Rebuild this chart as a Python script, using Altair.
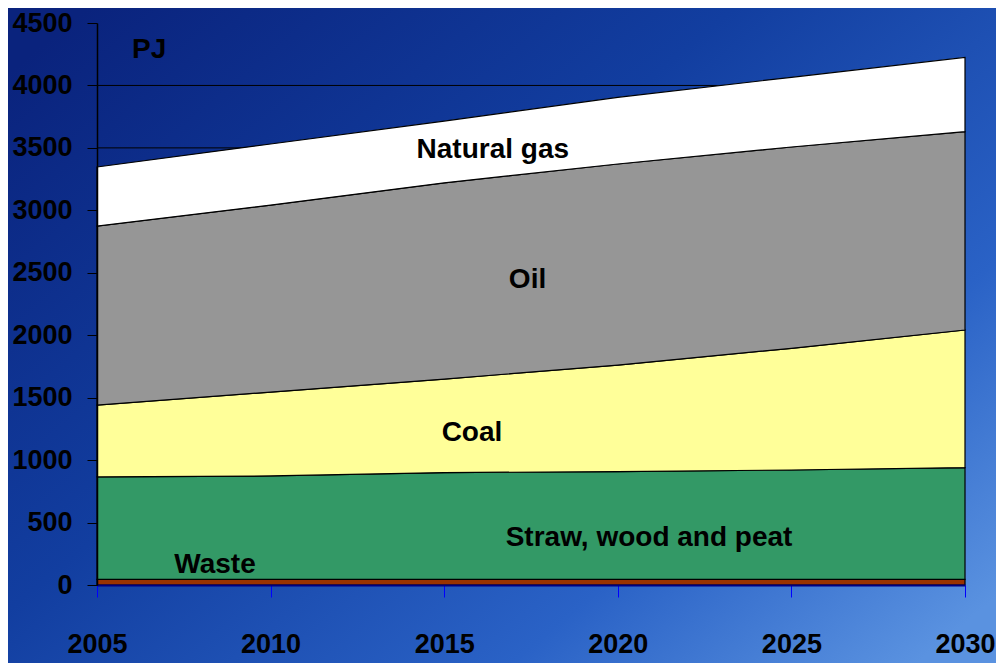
import altair as alt
import pandas as pd

# ---- data (PJ) ----
years = [2005, 2010, 2015, 2020, 2025, 2030]
waste = [45, 45, 45, 45, 45, 45]
straw = [820, 828, 855, 863, 876, 895]
coal = [576, 672, 749, 853, 974, 1102]
oil = [1433, 1497, 1571, 1610, 1612, 1588]
gas = [473, 489, 495, 534, 558, 595]

series = ["Waste", "Straw, wood and peat", "Coal", "Oil", "Natural gas"]
colors = ["#993300", "#339966", "#FFFF99", "#969696", "#FFFFFF"]

y_ticks = [0, 500, 1000, 1500, 2000, 2500, 3000, 3500, 4000, 4500]
x_ticks = [2005, 2010, 2015, 2020, 2025, 2030]

label_text = ["PJ", "Natural gas", "Oil", "Coal", "Straw, wood and peat", "Waste"]
label_year = [2006.5, 2016.4, 2017.4, 2015.8, 2020.9, 2008.4]
label_value = [4280, 3480, 2440, 1220, 380, 160]

FONT = "Liberation Sans Narrow, Liberation Sans, Arial, sans-serif"
FS = 28
AFS = 27

rows = []
for i, (name, vals) in enumerate(zip(series, [waste, straw, coal, oil, gas])):
    for yr, v in zip(years, vals):
        rows.append({"year": yr, "value": v, "series": name, "idx": i})
df = pd.DataFrame(rows)

labels_df = pd.DataFrame({"label": label_text, "year": label_year, "value": label_value})
grid_df = pd.DataFrame({"value": [v for v in y_ticks if 0 < v < 4500]})

W, H = 868, 562
PAD = {"left": 89, "top": 15, "right": 31, "bottom": 78}

xscale = alt.Scale(domain=[2005, 2030], nice=False, zero=False)
yscale = alt.Scale(domain=[0, 4500], nice=False)

xaxis = alt.Axis(
    values=x_ticks, format="d", title=None, grid=False, zindex=1,
    labelFont=FONT, labelFontSize=AFS, labelFontWeight="bold", labelColor="black",
    labelPadding=34, tickColor="#0000ff", tickSize=12, tickWidth=1,
    domainColor="#000080", domainWidth=2, labelFlush=False,
)
yaxis = alt.Axis(
    values=y_ticks, format="d", title=None, grid=False, zindex=1,
    labelFont=FONT, labelFontSize=AFS, labelFontWeight="bold", labelColor="black",
    labelPadding=15, tickColor="black", tickSize=10, tickWidth=1,
    domainColor="black", domainWidth=1.5,
)

gradient = {
    "gradient": "linear",
    "x1": 0, "y1": 0.1, "x2": 1, "y2": 0.9,
    "stops": [
        {"offset": 0.0, "color": "#0a237d"},
        {"offset": 0.4, "color": "#123ea0"},
        {"offset": 0.75, "color": "#2a62c6"},
        {"offset": 1.0, "color": "#5a92e0"},
    ],
}

bg = alt.Chart(pd.DataFrame({"a": [0]})).mark_rect().encode(
    x=alt.value(-PAD["left"]),
    x2=alt.value(W + PAD["right"]),
    y=alt.value(-PAD["top"]),
    y2=alt.value(H + PAD["bottom"]),
    fill=alt.value(gradient),
)

grid = alt.Chart(grid_df).mark_rule(color="black", strokeWidth=1).encode(
    y=alt.Y("value:Q", scale=yscale, axis=yaxis)
)

areas = alt.Chart(df).mark_area(stroke="black", strokeWidth=1.2, interpolate="linear").encode(
    x=alt.X("year:Q", scale=xscale, axis=xaxis),
    y=alt.Y("value:Q", stack="zero", scale=yscale, axis=yaxis),
    color=alt.Color("series:N", scale=alt.Scale(domain=series, range=colors), legend=None),
    order=alt.Order("idx:Q"),
)

texts = alt.Chart(labels_df).mark_text(
    font=FONT, fontSize=FS, fontWeight="bold", color="black", align="center", baseline="middle"
).encode(
    x=alt.X("year:Q", scale=xscale, axis=xaxis),
    y=alt.Y("value:Q", scale=yscale, axis=yaxis),
    text="label:N",
)

chart = alt.layer(bg, grid, areas, texts).properties(
    width=W, height=H, autosize="none", padding=PAD,
).configure_view(stroke="#8a8a8a", strokeWidth=1)

chart.save("out.html", embed_options={"renderer": "svg", "actions": False})
